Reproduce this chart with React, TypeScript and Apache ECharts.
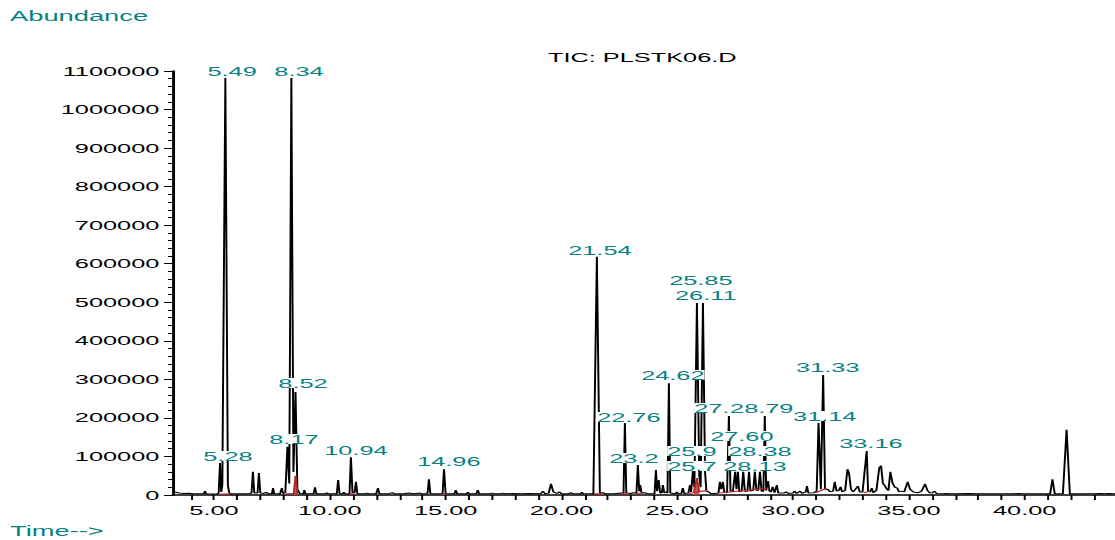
import React, { useEffect, useRef } from "react";
import * as echarts from "echarts";

// ---- data ----
const traceTimes: number[] = [
  3.23, 3.28, 3.35, 3.5, 3.7, 3.9, 4.1, 4.3, 4.5, 4.56, 4.61, 4.67, 4.9, 5.1, 5.2,
  5.26, 5.31, 5.36, 5.49, 5.6, 5.66, 5.75, 6.0, 6.2, 6.4, 6.55, 6.62, 6.68, 6.74, 6.88, 6.94, 7.0, 7.15, 7.25, 7.35, 7.5, 7.55, 7.6, 7.85, 7.93, 7.98, 8.08, 8.17, 8.25, 8.34, 8.43, 8.52, 8.6, 8.7, 8.85, 8.9, 8.95, 9.3, 9.36, 9.42, 9.8, 9.87, 9.93, 10.3, 10.36, 10.42, 10.55, 10.6, 10.65, 10.85, 10.91, 10.98, 11.07, 11.13, 11.19, 11.5, 11.6, 11.7, 12.0, 12.08, 12.14, 12.5, 12.7, 12.8, 13.2, 13.4, 13.6, 13.9, 14.0, 14.22, 14.28, 14.34, 14.5, 14.87, 14.93, 15.0, 15.38, 15.44, 15.5, 15.9, 15.96, 16.02, 16.33, 16.39, 16.45, 16.9, 17.0, 17.1, 17.4, 17.5, 17.6, 17.9, 18.3, 18.6, 19.1, 19.2, 19.3, 19.45, 19.55, 19.65, 19.8, 19.93, 20.0, 20.3, 20.4, 20.5, 20.82, 20.88, 20.94, 21.38, 21.53, 21.66, 21.8, 21.9, 22.3, 22.55, 22.68, 22.74, 22.8, 23.0, 23.1, 23.24, 23.3, 23.36, 23.4, 23.46, 23.6, 23.7, 23.9, 24.02, 24.08, 24.13, 24.2, 24.26, 24.33, 24.38, 24.44, 24.5, 24.58, 24.64, 24.7, 24.92, 24.98, 25.05, 25.18, 25.24, 25.3, 25.48, 25.55, 25.6, 25.68, 25.74, 25.85, 25.95, 26.01, 26.11, 26.2, 26.26, 26.35, 26.45, 26.6, 26.78, 26.84, 26.9, 26.97, 27.03, 27.15, 27.23, 27.3, 27.4, 27.5, 27.56, 27.62, 27.68, 27.78, 27.85, 27.92, 28.03, 28.1, 28.16, 28.28, 28.35, 28.42, 28.5, 28.57, 28.64, 28.72, 28.78, 28.84, 28.92, 28.98, 29.05, 29.12, 29.2, 29.3, 29.36, 29.6, 29.7, 29.8, 30.0, 30.07, 30.15, 30.3, 30.4, 30.55, 30.6, 30.66, 30.9, 31.02, 31.1, 31.2, 31.3, 31.38, 31.5, 31.6, 31.73, 31.8, 31.88, 31.98, 32.05, 32.12, 32.25, 32.35, 32.42, 32.5, 32.6, 32.8, 32.88, 33.0, 33.18, 33.24, 33.32, 33.4, 33.46, 33.6, 33.72, 33.8, 33.88, 33.95, 34.05, 34.12, 34.2, 34.3, 34.4, 34.5, 34.58, 34.7, 34.8, 34.95, 35.05, 35.2, 35.4, 35.55, 35.7, 35.8, 35.9, 36.0, 36.1, 36.2, 36.5, 36.6, 36.8, 37.0, 37.6, 38.0, 38.5, 39.0, 39.5, 39.75, 39.85, 40.3, 40.8, 41.1, 41.2, 41.3, 41.65, 41.81, 41.95, 42.5, 43.0, 43.3, 43.5, 43.6, 43.9,
];
const traceAbundance: number[] = [
  12000, 9000, 7000, 5000, 4000, 4500, 3000, 3500, 3000, 3000, 10000, 3000, 2500, 3000, 4000,
  83000, 8000, 25000, 1082000, 25000, 5000, 3000, 3000, 3500, 3000, 4000, 5000, 60000, 5000, 5000, 57000, 5000, 4000, 7000, 3000, 3000, 18000, 3000, 3000, 18000, 4000, 6000, 125000, 30000, 1082000, 60000, 267000, 15000, 4000, 3000, 13000, 3000, 3000, 20000, 3000, 3000, 6000, 3000, 3000, 39000, 4000, 3000, 7000, 3000, 3000, 98000, 6000, 5000, 34000, 3000, 3000, 5000, 3000, 3000, 18000, 3000, 3000, 6000, 3000, 3000, 5000, 3000, 5000, 3000, 4000, 41000, 4000, 3000, 4000, 67000, 4000, 3000, 13000, 3000, 3000, 7000, 3000, 3000, 13000, 3000, 3000, 5000, 3000, 3000, 5000, 3000, 4000, 3000, 4000, 3000, 10000, 3000, 5000, 29000, 8000, 4000, 8000, 3000, 3000, 6000, 3000, 3000, 7000, 3000, 3000, 618000, 5000, 6000, 3000, 3000, 5000, 4000, 187000, 5000, 4000, 6000, 5000, 78000, 10000, 26000, 5000, 6000, 4000, 3000, 4000, 65000, 10000, 39000, 6000, 5000, 26000, 5000, 8000, 5000, 290000, 5000, 3000, 8000, 3000, 4000, 18000, 4000, 5000, 26000, 8000, 65000, 20000, 498000, 50000, 20000, 498000, 60000, 10000, 8000, 4000, 4000, 5000, 34000, 15000, 34000, 8000, 6000, 205000, 10000, 8000, 60000, 15000, 60000, 8000, 10000, 60000, 10000, 10000, 60000, 10000, 12000, 60000, 12000, 12000, 60000, 10000, 10000, 205000, 12000, 36000, 10000, 8000, 21000, 6000, 26000, 5000, 5000, 8000, 4000, 5000, 10000, 4000, 10000, 4000, 8000, 23000, 5000, 6000, 10000, 187000, 15000, 311000, 15000, 15000, 8000, 10000, 34000, 10000, 12000, 21000, 8000, 12000, 67000, 55000, 15000, 8000, 23000, 8000, 8000, 114000, 10000, 8000, 18000, 6000, 12000, 70000, 76000, 30000, 25000, 15000, 12000, 60000, 30000, 20000, 18000, 8000, 10000, 8000, 34000, 15000, 8000, 6000, 10000, 29000, 12000, 6000, 5000, 10000, 4000, 3000, 4000, 3000, 3000, 4000, 3000, 3000, 3000, 3000, 4000, 3000, 3000, 3000, 3000, 41000, 3000, 3000, 169000, 3000, 3000, 3000, 4000, 3000, 4000, 3000,
];

// integration baselines (red), null separates segments
const baselineTimes: (number | null)[] = [5.2, 5.7, null, 8.1, 8.6, null, 10.85, 11.0, null, 14.85, 15.0, null, 21.4, 21.8, null, 22.6, 22.9, null, 23.2, 23.5, null, 25.5, 26.3, null, 26.8, 29.0, null, 31.0, 31.45, null, 33.05, 33.3];
const baselineValues: (number | null)[] = [2000, 3000, null, 3000, 4000, null, 3000, 3000, null, 3000, 3000, null, 3000, 3000, null, 3000, 3000, null, 4000, 5000, null, 4000, 12000, null, 5000, 18000, null, 6000, 18000, null, 6000, 9000];
const filledTimes: (number | null)[] = [8.44, 8.52, 8.6, null, 25.72, 25.85, 25.95];
const filledValues: (number | null)[] = [3000, 50000, 3000, null, 8000, 44000, 8000];

// peak labels: text, centre time, centre abundance
const peakLabelTexts: string[] = ["5.28", "5.49", "8.34", "8.17", "8.52", "10.94", "14.96", "21.54", "22.76", "23.2", "24.62", "25.85", "26.11", "27.", "28.79", "31.33", "31.14", "25.9", "25.7", "28.13", "28.38", "27.60", "33.16"];
const peakLabelTimes: number[] = [5.6, 5.78, 8.67, 8.45, 8.84, 11.13, 15.14, 21.66, 22.91, 23.13, 24.81, 26.02, 26.23, 26.49, 28.65, 31.5, 31.37, 25.63, 25.63, 28.35, 28.57, 27.79, 33.36];
const peakLabelAbundance: number[] = [101200, 1100000, 1100000, 145300, 290500, 116700, 88200, 635500, 202300, 96000, 311300, 557700, 518800, 225700, 225700, 332000, 204900, 114000, 75000, 75000, 114000, 153000, 134900];

const xLabelValues: number[] = [5, 10, 15, 20, 25, 30, 35, 40];
const xTickValues: number[] = [4, 5, 6, 7, 8, 9, 10, 11, 12, 13, 14, 15, 16, 17, 18, 19, 20, 21, 22, 23, 24, 25, 26, 27, 28, 29, 30, 31, 32, 33, 34, 35, 36, 37, 38, 39, 40, 41, 42, 43];

const S = 1.95; // horizontal stretch of the reference
const W = 1115;
const H = 540;
const IW = W / S;
const TEAL = "#068282";
const FONT = "'Liberation Sans', Arial, sans-serif";

export default function App() {
  const ref = useRef<HTMLDivElement>(null);
  useEffect(() => {
    if (!ref.current) return;
    const chart = echarts.init(ref.current, null, { renderer: "svg", width: IW, height: H });
    const trace = traceTimes.map((t, i) => [t, traceAbundance[i]]);
    const base = baselineTimes.map((t, i) => (t === null ? [null, null] : [t, baselineValues[i]]));
    const filled = filledTimes.map((t, i) => (t === null ? [null, null] : [t, filledValues[i]]));
    const labels = peakLabelTexts.map((s, i) => ({ name: s, value: [peakLabelTimes[i], peakLabelAbundance[i]] }));
    chart.setOption({
      animation: false,
      backgroundColor: "#fff",
      grid: { left: 173 / S, right: 0, top: 71, bottom: 45, containLabel: false },
      xAxis: {
        type: "value",
        min: 3.23,
        max: 43.9,
        axisLine: { lineStyle: { color: "#000", width: 1.5 } },
        axisTick: { show: true, customValues: xTickValues, length: 5, lineStyle: { color: "#000" } },
        axisLabel: {
          customValues: xLabelValues,
          formatter: (v: number) => v.toFixed(2),
          color: "#000",
          fontSize: 13,
          fontFamily: FONT,
          margin: 9,
        },
        splitLine: { show: false },
      },
      yAxis: {
        type: "value",
        min: 0,
        max: 1100000,
        interval: 100000,
        axisLine: { show: true, lineStyle: { color: "#000", width: 1.5 } },
        axisTick: { show: true, length: 4.6, lineStyle: { color: "#000" } },
        minorTick: { show: true, splitNumber: 5, length: 2.6, lineStyle: { color: "#000" } },
        axisLabel: { color: "#000", fontSize: 13, fontFamily: FONT, margin: 7, formatter: (v: number) => String(v) },
        splitLine: { show: false },
      },
      graphic: [
        { type: "text", left: 10 / S, top: 9, style: { text: "Abundance", fontSize: 14, fill: TEAL, fontFamily: FONT } },
        { type: "text", left: 10 / S, top: 524, style: { text: "Time-->", fontSize: 14, fill: TEAL, fontFamily: FONT } },
        { type: "text", left: 548 / S, top: 51, style: { text: "TIC: PLSTK06.D", fontSize: 13, fill: "#000", fontFamily: FONT } },
      ],
      series: [
        {
          type: "line",
          data: trace,
          symbol: "none",
          lineStyle: { color: "#000", width: 1.0 },
          z: 2,
        },
        {
          type: "line",
          data: filled,
          symbol: "none",
          connectNulls: false,
          lineStyle: { color: "#b02a2a", width: 1 },
          areaStyle: { color: "#b84a4a", opacity: 0.9 },
          z: 3,
        },
        {
          type: "line",
          data: base,
          symbol: "none",
          connectNulls: false,
          lineStyle: { color: "#c0262a", width: 1.1 },
          z: 3,
        },
        {
          type: "scatter",
          data: labels,
          symbolSize: 0.1,
          clip: false,
          itemStyle: { color: "#fff", opacity: 1 },
          label: {
            show: true,
            position: "inside",
            formatter: (p: any) => p.name,
            color: TEAL,
            fontSize: 13,
            lineHeight: 10,
            fontFamily: FONT,
            backgroundColor: "#fff",
            padding: 0,
          },
          z: 5,
        },
      ],
    });
    return () => chart.dispose();
  }, []);
  return (
    <div style={{ position: "fixed", left: 0, top: 0, width: W, height: H, overflow: "hidden", background: "#fff" }}>
      <div
        ref={ref}
        style={{ width: IW, height: H, transform: `scaleX(${S})`, transformOrigin: "0 0" }}
      />
    </div>
  );
}
